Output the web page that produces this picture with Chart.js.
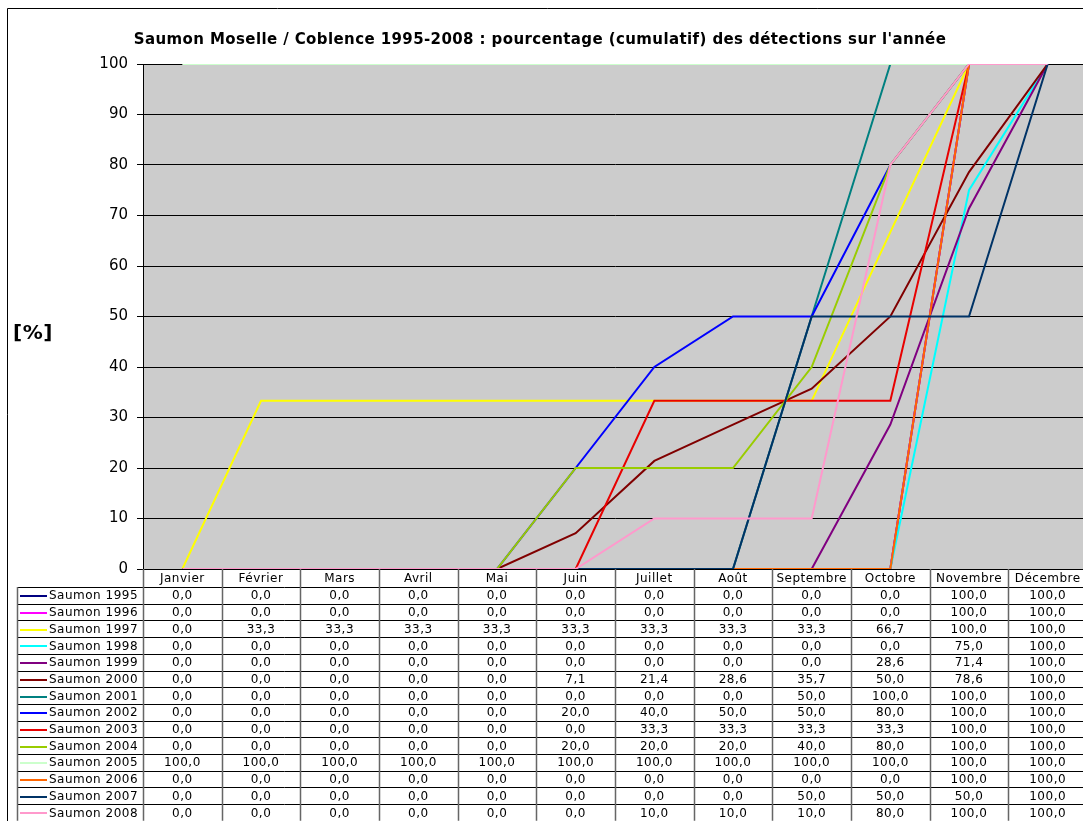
<!DOCTYPE html>
<html>
<head>
<meta charset="utf-8">
<script src="https://cdn.jsdelivr.net/npm/chart.js@4"></script>
<style>
html,body{margin:0;padding:0;background:#fff;overflow:hidden;}
#wrap{position:relative;width:1087px;height:821px;}
</style>
</head>
<body>
<div id="wrap"><canvas id="c" width="1087" height="821"></canvas></div>
<script>
const titleText = "Saumon Moselle / Coblence 1995-2008 : pourcentage (cumulatif) des détections sur l'année";
const yTitle = "[%]";
const months = ['Janvier','Février','Mars','Avril','Mai','Juin','Juillet','Août','Septembre','Octobre','Novembre','Décembre'];
const seriesNames = ['Saumon 1995','Saumon 1996','Saumon 1997','Saumon 1998','Saumon 1999','Saumon 2000','Saumon 2001','Saumon 2002','Saumon 2003','Saumon 2004','Saumon 2005','Saumon 2006','Saumon 2007','Saumon 2008'];
const s1995 = [0,0,0,0,0,0,0,0,0,0,100,100];
const s1996 = [0,0,0,0,0,0,0,0,0,0,100,100];
const s1997 = [0,33.3,33.3,33.3,33.3,33.3,33.3,33.3,33.3,66.7,100,100];
const s1998 = [0,0,0,0,0,0,0,0,0,0,75,100];
const s1999 = [0,0,0,0,0,0,0,0,0,28.6,71.4,100];
const s2000 = [0,0,0,0,0,7.1,21.4,28.6,35.7,50,78.6,100];
const s2001 = [0,0,0,0,0,0,0,0,50,100,100,100];
const s2002 = [0,0,0,0,0,20,40,50,50,80,100,100];
const s2003 = [0,0,0,0,0,0,33.3,33.3,33.3,33.3,100,100];
const s2004 = [0,0,0,0,0,20,20,20,40,80,100,100];
const s2005 = [100,100,100,100,100,100,100,100,100,100,100,100];
const s2006 = [0,0,0,0,0,0,0,0,0,0,100,100];
const s2007 = [0,0,0,0,0,0,0,0,50,50,50,100];
const s2008 = [0,0,0,0,0,0,10,10,10,80,100,100];
const yTicks = [0,10,20,30,40,50,60,70,80,90,100];

const seriesValues = [s1995,s1996,s1997,s1998,s1999,s2000,s2001,s2002,s2003,s2004,s2005,s2006,s2007,s2008];
const colors = ['#000080','#FF00FF','#FFFF00','#00FFFF','#800080','#800000','#008080','#0000FF','#E80000','#99CC00','#CCFFCC','#FF6600','#003366','#FF99CC'];

const FONT = '"DejaVu Sans", Verdana, sans-serif';
const fmt = v => v.toFixed(1).replace('.', ',');

const datasets = seriesValues.map((vals, i) => ({
  label: seriesNames[i],
  data: vals,
  borderColor: colors[i],
  backgroundColor: colors[i],
  borderWidth: 2,
  pointRadius: 0,
  pointHoverRadius: 0,
  tension: 0,
  fill: false,
  order: seriesValues.length - 1 - i
}));

const HEADER_H = 18;
const ROW_H = 16.7;
const LEG_LEFT = 17;

const deco = {
  id: 'deco',
  beforeDraw(chart) {
    const {ctx, chartArea: a} = chart;
    ctx.save();
    ctx.fillStyle = '#fff';
    ctx.fillRect(0, 0, chart.width, chart.height);
    ctx.fillStyle = '#cccccc';
    ctx.fillRect(a.left, a.top, a.right - a.left, a.bottom - a.top);
    ctx.strokeStyle = '#000';
    ctx.lineWidth = 1;
    ctx.beginPath();
    ctx.moveTo(7.5, chart.height);
    ctx.lineTo(7.5, 8.5);
    ctx.lineTo(chart.width, 8.5);
    ctx.stroke();
    ctx.restore();
  },
  afterDraw(chart) {
    const {ctx, chartArea: a} = chart;
    const xs = chart.scales.x;
    ctx.save();
    ctx.fillStyle = '#000';
    ctx.font = 'bold 15px ' + FONT;
    try { ctx.letterSpacing = '0.4px'; } catch (e) {}
    ctx.textAlign = 'center';
    ctx.textBaseline = 'middle';
    ctx.fillText(titleText, 540, 40);
    try { ctx.letterSpacing = '0.5px'; } catch (e) {}
    ctx.font = 'bold 20px ' + FONT;
    ctx.fillText(yTitle, 33, 334);

    const colW = (a.right - a.left) / months.length;
    const top = a.bottom;
    const rowsTop = top + HEADER_H;
    const bottom = rowsTop + ROW_H * seriesNames.length;
    ctx.fillStyle = '#fff';
    ctx.fillRect(LEG_LEFT, rowsTop, chart.width - LEG_LEFT, bottom - rowsTop);
    ctx.fillRect(a.left, top + 1, chart.width - a.left, HEADER_H);

    ctx.strokeStyle = '#000';
    ctx.lineWidth = 1;
    ctx.beginPath();
    ctx.moveTo(a.left, Math.round(top) + 0.5);
    ctx.lineTo(chart.width, Math.round(top) + 0.5);
    for (let r = 0; r <= seriesNames.length; r++) {
      const y = Math.round(rowsTop + r * ROW_H) + 0.5;
      ctx.moveTo(LEG_LEFT, y);
      ctx.lineTo(chart.width, y);
    }
    ctx.stroke();
    ctx.strokeStyle = '#666';
    ctx.lineWidth = 1.5;
    ctx.beginPath();
    ctx.moveTo(LEG_LEFT + 0.5, rowsTop);
    ctx.lineTo(LEG_LEFT + 0.5, bottom);
    for (let c = 0; c <= months.length; c++) {
      const x = Math.round(a.left + c * colW) + 0.5;
      ctx.moveTo(x, top);
      ctx.lineTo(x, bottom);
    }
    ctx.stroke();

    ctx.font = '12px ' + FONT;
    try { ctx.letterSpacing = '0.5px'; } catch (e) {}
    ctx.fillStyle = '#000';
    ctx.textBaseline = 'middle';
    ctx.textAlign = 'center';
    months.forEach((m, j) => {
      ctx.fillText(m, xs.getPixelForValue(j), top + HEADER_H / 2 + 1);
    });
    seriesNames.forEach((name, i) => {
      const yc = rowsTop + i * ROW_H + ROW_H / 2 + 1;
      ctx.strokeStyle = colors[i];
      ctx.lineWidth = 2;
      ctx.beginPath();
      ctx.moveTo(20, Math.round(yc));
      ctx.lineTo(47, Math.round(yc));
      ctx.stroke();
      ctx.textAlign = 'left';
      ctx.fillText(name, 49, yc);
      ctx.textAlign = 'center';
      seriesValues[i].forEach((v, j) => {
        ctx.fillText(fmt(v), xs.getPixelForValue(j), yc);
      });
    });
    ctx.restore();
  }
};

new Chart(document.getElementById('c'), {
  type: 'line',
  data: { labels: months, datasets },
  options: {
    responsive: false,
    animation: false,
    devicePixelRatio: 1,
    layout: { padding: { top: 64, left: 0, right: 0, bottom: 821 - 569 } },
    plugins: { legend: { display: false }, title: { display: false }, tooltip: { enabled: false } },
    events: [],
    scales: {
      x: { display: false, offset: true },
      y: {
        min: 0, max: 100,
        afterFit(s) { s.width = 143; },
        afterBuildTicks(s) { s.ticks = yTicks.map(v => ({ value: v })); },
        ticks: { font: { family: FONT, size: 15 }, color: '#000', padding: 9 },
        grid: { color: '#000', lineWidth: 1, tickLength: 6, drawTicks: true },
        border: { display: true, color: '#000', width: 1 }
      }
    }
  },
  plugins: [deco]
});
</script>
</body>
</html>
